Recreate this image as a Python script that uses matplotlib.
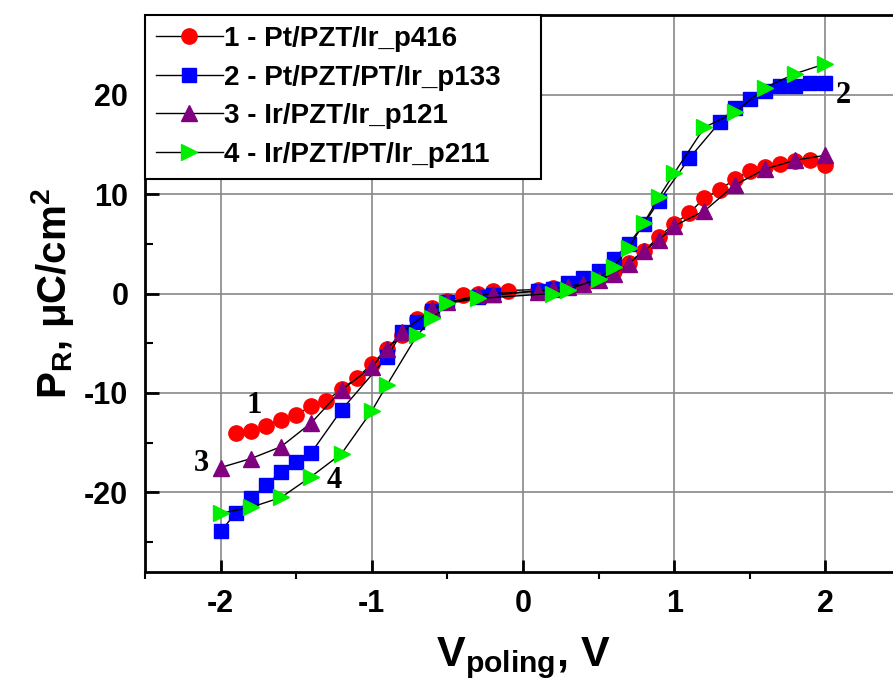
import matplotlib
matplotlib.use("Agg")
import matplotlib.pyplot as plt
from matplotlib.ticker import MultipleLocator

plt.rcParams['font.family'] = ['Liberation Sans', 'DejaVu Sans']
plt.rcParams['font.weight'] = 'bold'
plt.rcParams['axes.labelweight'] = 'bold'
plt.rcParams['axes.unicode_minus'] = False
plt.rcParams['mathtext.fontset'] = 'custom'
plt.rcParams['mathtext.rm'] = 'Liberation Sans:bold'
plt.rcParams['mathtext.it'] = 'Liberation Sans:bold'
plt.rcParams['mathtext.bf'] = 'Liberation Sans:bold'

# 1 - Pt/PZT/Ir_p416
v1 = [-1.9, -1.8, -1.7, -1.6, -1.5, -1.4, -1.3, -1.2, -1.1, -1.0, -0.9, -0.8, -0.7, -0.6,
      -0.5, -0.4, -0.3, -0.2, -0.1, 0.1, 0.2, 0.3, 0.4, 0.5, 0.6, 0.7, 0.8, 0.9, 1.0,
      1.1, 1.2, 1.3, 1.4, 1.5, 1.6, 1.7, 1.8, 1.9, 2.0]
p1 = [-14.0, -13.8, -13.3, -12.7, -12.2, -11.3, -10.8, -9.6, -8.5, -7.1, -5.6, -4.2, -2.6, -1.5,
      -0.8, -0.2, 0.0, 0.3, 0.3, 0.4, 0.6, 0.8, 1.0, 1.6, 2.3, 3.1, 4.3, 5.7, 7.0,
      8.1, 9.6, 10.4, 11.5, 12.3, 12.7, 13.0, 13.3, 13.4, 12.9]

# 2 - Pt/PZT/PT/Ir_p133
v2 = [-2.0, -1.9, -1.8, -1.7, -1.6, -1.5, -1.4, -1.2, -0.9, -0.8, -0.7, -0.6, -0.5, -0.3,
      -0.2, 0.1, 0.2, 0.3, 0.4, 0.5, 0.6, 0.7, 0.8, 0.9, 1.1, 1.3, 1.4, 1.5, 1.6, 1.7,
      1.8, 1.9, 2.0]
p2 = [-23.9, -22.1, -20.6, -19.3, -17.9, -16.9, -16.0, -11.7, -6.4, -3.9, -2.9, -1.8, -0.9, -0.4,
      -0.2, 0.3, 0.5, 1.1, 1.6, 2.3, 3.5, 5.0, 7.0, 9.3, 13.6, 17.2, 18.7, 19.6, 20.4, 20.9,
      20.9, 21.2, 21.2]

# 3 - Ir/PZT/Ir_p121
v3 = [-2.0, -1.8, -1.6, -1.4, -1.2, -1.0, -0.9, -0.8, -0.6, -0.5, -0.3, -0.2, 0.1, 0.2,
      0.3, 0.4, 0.5, 0.6, 0.7, 0.8, 0.9, 1.0, 1.2, 1.4, 1.6, 1.8, 2.0]
p3 = [-17.5, -16.6, -15.4, -13.0, -9.7, -7.4, -5.6, -3.9, -1.6, -0.9, -0.2, 0.0, 0.2, 0.5,
      0.7, 1.0, 1.4, 2.0, 3.0, 4.3, 5.4, 6.8, 8.3, 10.9, 12.5, 13.4, 13.9]

# 4 - Ir/PZT/PT/Ir_p211
v4 = [-2.0, -1.8, -1.6, -1.4, -1.2, -1.0, -0.9, -0.7, -0.6, -0.5, -0.3, 0.2, 0.3, 0.5,
      0.6, 0.7, 0.8, 0.9, 1.0, 1.2, 1.4, 1.6, 1.8, 2.0]
p4 = [-22.1, -21.5, -20.5, -18.4, -16.1, -11.8, -9.2, -4.2, -2.5, -1.0, -0.5, 0.0, 0.4, 1.5,
      2.7, 4.6, 7.1, 9.7, 12.1, 16.7, 18.2, 20.7, 22.1, 23.1]

labels = ['1 - Pt/PZT/Ir_p416', '2 - Pt/PZT/PT/Ir_p133',
          '3 - Ir/PZT/Ir_p121', '4 - Ir/PZT/PT/Ir_p211']

fig = plt.figure(figsize=(8.93, 6.84), dpi=100)
# axes run a bit past the right edge of the figure
ax = fig.add_axes([145 / 893, 112 / 684, 756 / 893, 557 / 684])

ax.plot(v1, p1, '-', color='black', lw=1, marker='o', ms=11, mfc='red', mec='red', label=labels[0])
ax.plot(v2, p2, '-', color='black', lw=1, marker='s', ms=9.5, mfc='blue', mec='blue', label=labels[1])
ax.plot(v3, p3, '-', color='black', lw=1, marker='^', ms=12, mfc='purple', mec='purple', label=labels[2])
ax.plot(v4, p4, '-', color='black', lw=1, marker='>', ms=12, mfc='#00ee00', mec='#00ee00', label=labels[3])

ax.set_xlim(-2.5, 2.5)
ax.set_ylim(-28, 28)
ax.xaxis.set_major_locator(MultipleLocator(1))
ax.xaxis.set_minor_locator(MultipleLocator(0.5))
ax.yaxis.set_major_locator(MultipleLocator(10))
ax.yaxis.set_minor_locator(MultipleLocator(5))
ax.grid(True, which='major', color='#888888', lw=1.2)
ax.set_axisbelow(True)

ax.tick_params(axis='x', which='major', direction='in', length=9, width=2, labelsize=22, pad=12)
ax.tick_params(axis='x', which='minor', direction='out', length=5, width=1.5)
ax.tick_params(axis='y', which='major', direction='in', length=10, width=2, labelsize=22, pad=12)
ax.tick_params(axis='y', which='minor', direction='in', length=6, width=1.5)
for lab in ax.get_xticklabels() + ax.get_yticklabels():
    lab.set_fontweight('bold')
for sp in ax.spines.values():
    sp.set_linewidth(2)

ax.set_xlabel(r'V$_{\rm poling}$, V', fontsize=31, labelpad=12)
ax.set_ylabel(r'P$_{\rm R}$, μC/cm$^{\rm 2}$', fontsize=29, labelpad=6)

# curve numbers
num_x = [-1.78, 2.12, -2.13, -1.25]
num_y = [-11.3, 19.9, -17.1, -18.8]
for i, (nx, ny) in enumerate(zip(num_x, num_y)):
    ax.text(nx, ny, str(i + 1), fontsize=22, fontweight='bold', family='Liberation Serif',
            ha='center', va='center')

leg = ax.legend(loc='upper left', bbox_to_anchor=(0, 1, 396 / 756, 0), mode='expand',
                borderaxespad=0, fancybox=False, framealpha=1, edgecolor='black',
                fontsize=20, handlelength=2.4, handletextpad=0.05, labelspacing=0.45,
                borderpad=0.4)
leg.get_frame().set_linewidth(1.5)
for t in leg.get_texts():
    t.set_fontweight('bold')

fig.savefig('out.png', dpi=100)
